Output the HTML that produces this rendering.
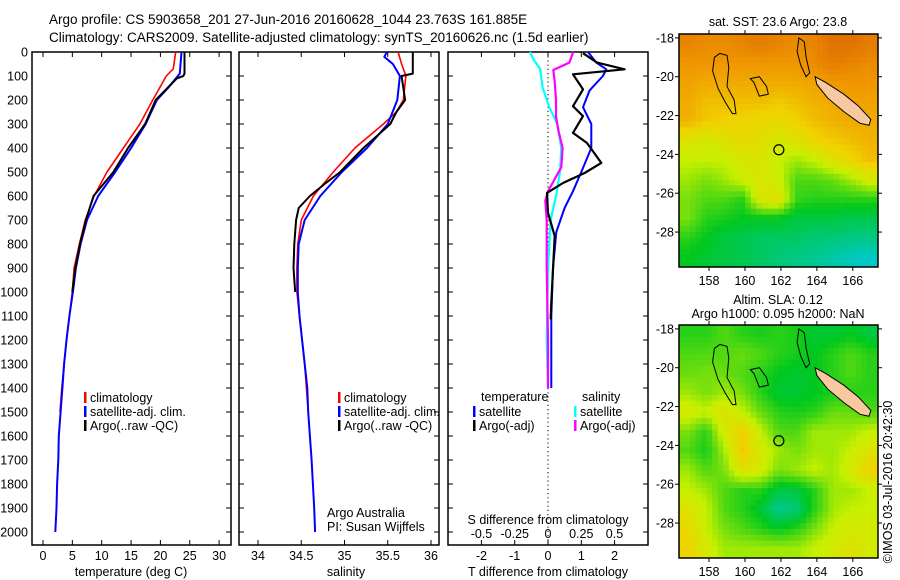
<!DOCTYPE html>
<html><head><meta charset="utf-8">
<style>
body{margin:0;background:#fff;}
svg{display:block;font-family:"Liberation Sans",sans-serif;}
text{fill:#000;}
</style></head>
<body>
<svg id="c" width="900" height="580" xmlns="http://www.w3.org/2000/svg">
<text x="49" y="24" font-size="13.5">Argo profile: CS 5903658_201 27-Jun-2016 20160628_1044 23.763S 161.885E</text>
<text x="49" y="42" font-size="13.5">Climatology: CARS2009. Satellite-adjusted climatology: synTS_20160626.nc (1.5d earlier)</text>
<g id="p1"></g>
<g id="p2"></g>
<g id="p3"></g>
<g id="m1"></g>
<g id="m2"></g>
<text transform="translate(892,482) rotate(-90)" text-anchor="middle" font-size="12.5">©IMOS 03-Jul-2016 20:42:30</text>
</svg>
<script>
// ---- data ----
const depthTicks=[0,100,200,300,400,500,600,700,800,900,1000,1100,1200,1300,1400,1500,1600,1700,1800,1900,2000];
const tempTicks=[0,5,10,15,20,25,30];
const salTicks=[34,34.5,35,35.5,36];
const tdiffTicks=[-2,-1,0,1,2];
const sdiffTicks=[-0.5,-0.25,0,0.25,0.5];
const tempArgoDepth=[0,90,100,110,200,300,400,500,600,700,800,900,1000];
const tempArgo=[24.1,24.1,23.9,22.8,19.2,17.4,14.5,12.0,8.6,7.3,6.3,5.5,5.0];
const tempClimDepth=[0,70,100,200,300,400,500,600,700,800,900,1000,1100,1200,1300,1400,1500];
const tempClim=[22.6,22.2,21.0,18.7,16.5,13.7,10.9,8.7,7.2,6.2,5.3,5.0,4.5,4.0,3.6,3.2,2.9];
const tempSatDepth=[0,90,150,200,300,400,500,600,700,800,900,1000,1100,1200,1300,1400,1500,1600,1700,1800,1900,2000];
const tempSat=[23.6,23.3,21.3,19.4,17.5,15.0,12.3,9.4,7.5,6.4,5.6,5.1,4.5,4.0,3.6,3.3,3.0,2.7,2.6,2.4,2.3,2.1];
const salArgoDepth=[0,90,100,200,250,300,400,500,550,600,650,700,800,900,1000];
const salArgo=[35.79,35.79,35.66,35.70,35.60,35.53,35.22,34.95,34.77,34.60,34.47,34.44,34.42,34.41,34.43];
const salClimDepth=[0,50,100,200,250,300,400,500,600,700,800,900,1000,1100,1200,1300,1400,1500];
const salClim=[35.62,35.66,35.71,35.68,35.60,35.45,35.12,34.87,34.64,34.50,34.46,34.45,34.45,34.48,34.51,34.54,34.56,34.58];
const salSatDepth=[0,20,50,100,200,300,400,500,600,700,800,900,1000,1100,1200,1300,1400,1500,1700,1900,2000];
const salSat=[35.49,35.46,35.56,35.64,35.61,35.50,35.26,34.97,34.72,34.54,34.47,34.46,34.46,34.48,34.51,34.54,34.57,34.58,34.62,34.65,34.66];
const tdArgoDepth=[5,44,72,93,156,226,267,337,379,462,504,546,587,670,767,906,1045,1114];
const tdArgo=[1.05,1.47,2.3,0.75,1.05,0.75,1.05,0.75,1.17,1.6,1.1,0.45,-0.03,0.0,0.2,0.15,0.1,0.08];
const tdSatDepth=[0,44,72,100,160,230,300,400,500,580,650,750,900,1100,1400];
const tdSat=[1.2,1.45,1.75,1.65,1.25,1.05,1.3,1.3,1.0,0.75,0.5,0.25,0.15,0.1,0.1];
const sdArgoDepth=[0,44,75,120,200,270,330,400,480,540,580,620,700,900,1200,1400];
const sdArgo=[0.19,0.16,0.04,0.05,0.06,0.06,0.08,0.11,0.10,0.04,0.0,-0.02,-0.01,-0.01,0.0,0.0];
const sdSatDepth=[0,30,70,150,230,300,400,500,600,700,900,1200,1400];
const sdSat=[-0.135,-0.11,-0.06,-0.04,0.01,0.07,0.10,0.09,0.06,0.02,0.0,-0.01,0.0];
const latTicks=[-18,-20,-22,-24,-26,-28];
const lonTicks=[158,160,162,164,166];
const sstGrid=[
[0.9,0.88,0.88,0.9,0.92,0.9,0.88,0.9,0.95,0.95,0.92],
[0.85,0.85,0.85,0.85,0.85,0.85,0.85,0.88,0.92,0.9,0.88],
[0.82,0.8,0.8,0.8,0.8,0.8,0.8,0.82,0.85,0.85,0.85],
[0.8,0.75,0.75,0.75,0.75,0.72,0.75,0.78,0.8,0.82,0.82],
[0.78,0.72,0.7,0.68,0.66,0.66,0.7,0.75,0.78,0.8,0.8],
[0.6,0.55,0.6,0.66,0.62,0.56,0.6,0.68,0.72,0.75,0.78],
[0.5,0.5,0.5,0.56,0.58,0.5,0.45,0.5,0.6,0.68,0.75],
[0.45,0.4,0.45,0.52,0.58,0.52,0.35,0.35,0.38,0.45,0.55],
[0.4,0.35,0.35,0.3,0.58,0.62,0.32,0.3,0.3,0.3,0.3],
[0.4,0.3,0.28,0.25,0.25,0.25,0.2,0.2,0.2,0.18,0.18],
[0.3,0.25,0.2,0.18,0.15,0.15,0.15,0.12,0.12,0.1,0.1],
[0.25,0.22,0.2,0.18,0.15,0.12,0.1,0.08,0.05,0.02,0.0]];
const slaGrid=[
[0.3,0.3,0.35,0.3,0.28,0.3,0.28,0.22,0.22,0.25,0.2],
[0.35,0.35,0.35,0.38,0.35,0.3,0.28,0.25,0.3,0.35,0.3],
[0.38,0.4,0.38,0.35,0.3,0.25,0.22,0.25,0.3,0.35,0.3],
[0.45,0.4,0.45,0.4,0.3,0.22,0.22,0.25,0.28,0.3,0.3],
[0.55,0.5,0.6,0.5,0.38,0.3,0.28,0.3,0.38,0.38,0.35],
[0.4,0.3,0.55,0.7,0.5,0.35,0.35,0.45,0.45,0.45,0.5],
[0.35,0.28,0.45,0.72,0.55,0.45,0.4,0.45,0.45,0.5,0.6],
[0.45,0.35,0.4,0.6,0.55,0.4,0.45,0.5,0.45,0.55,0.7],
[0.5,0.45,0.35,0.3,0.3,0.2,0.2,0.3,0.45,0.45,0.5],
[0.6,0.5,0.35,0.3,0.22,0.08,0.12,0.3,0.45,0.5,0.5],
[0.65,0.5,0.4,0.35,0.3,0.25,0.3,0.4,0.5,0.55,0.55],
[0.7,0.55,0.45,0.45,0.45,0.45,0.45,0.5,0.55,0.6,0.55]];

// ---- helpers ----
const NS="http://www.w3.org/2000/svg";
function mk(parent,tag,attrs,txt){const e=document.createElementNS(NS,tag);for(const k in attrs)e.setAttribute(k,attrs[k]);if(txt!==undefined)e.textContent=txt;parent.appendChild(e);return e;}
const yD=d=>52+d*0.24;
const PB=545;
function frame(g,x0,x1,name){
  const r=mk(g,'rect',{x:x0,y:52,width:x1-x0,height:PB-52,fill:'none',stroke:'#000','stroke-width':1.5});
  
  
}
function yticks(g,x0,x1,labels){
  depthTicks.forEach(d=>{
    const y=yD(d);
    mk(g,'line',{x1:x1-5,x2:x1,y1:y,y2:y,stroke:'#000'});
    if(labels){const t=mk(g,'text',{x:x0-4,y:y+4.5,'font-size':12.5,'text-anchor':'end'},String(d));
      
      }
  });
}
function xticks(g,vals,sx,fmt,ly){
  vals.forEach(v=>{const x=sx(v);
    mk(g,'line',{x1:x,x2:x,y1:52,y2:57,stroke:'#000'});
    mk(g,'line',{x1:x,x2:x,y1:PB,y2:PB-5,stroke:'#000'});
    const t=mk(g,'text',{x:x,y:ly,'font-size':12.5,'text-anchor':'middle'},fmt(v));
    
    
  });
}
function line(g,xs,ds,sx,col,w,name){
  const pts=xs.map((v,i)=>sx(v).toFixed(1)+','+yD(ds[i]).toFixed(1)).join(' ');
  const p=mk(g,'polyline',{points:pts,fill:'none',stroke:col,'stroke-width':w,'stroke-linejoin':'round'});
  
  
}
function legend(g,x,y,col,label){
  mk(g,'rect',{x:x,y:y-10,width:2.5,height:11,fill:col});
  const t=mk(g,'text',{x:x+6,y:y,'font-size':12.5},label);
  
  
}
// ---- panel 1 ----
const p1=document.getElementById('p1');
const sxT=v=>43+v*5.87;
frame(p1,32,231,'temperature-plot-frame');yticks(p1,32,231,true);
xticks(p1,tempTicks,sxT,String,560);
line(p1,tempClim,tempClimDepth,sxT,'#f00',1.6,'temperature-climatology-line');
line(p1,tempSat,tempSatDepth,sxT,'#00f',2,'temperature-satellite-line');
line(p1,tempArgo,tempArgoDepth,sxT,'#000',2,'temperature-argo-line');
mk(p1,'text',{x:131,y:576,'font-size':12.5,'text-anchor':'middle'},'temperature (deg C)');
legend(p1,84,402,'#f00','climatology');legend(p1,84,416,'#00f','satellite-adj. clim.');legend(p1,84,430,'#000','Argo(..raw -QC)');
// ---- panel 2 ----
const p2=document.getElementById('p2');
const sxS=v=>258+(v-34)*86.5;
frame(p2,239,439,'salinity-plot-frame');yticks(p2,239,439,false);
depthTicks.forEach(d=>mk(p2,'line',{x1:239,x2:244,y1:yD(d),y2:yD(d),stroke:'#000'}));
xticks(p2,salTicks,sxS,String,560);
line(p2,salClim,salClimDepth,sxS,'#f00',1.6,'salinity-climatology-line');
line(p2,salSat,salSatDepth,sxS,'#00f',2,'salinity-satellite-line');
line(p2,salArgo,salArgoDepth,sxS,'#000',2,'salinity-argo-line');
mk(p2,'text',{x:346,y:576,'font-size':12.5,'text-anchor':'middle'},'salinity');
legend(p2,338,402,'#f00','climatology');legend(p2,338,416,'#00f','satellite-adj. clim.');legend(p2,338,430,'#000','Argo(..raw -QC)');
mk(p2,'text',{x:327,y:517,'font-size':12.5},'Argo Australia');
mk(p2,'text',{x:327,y:531,'font-size':12.5},'PI: Susan Wijffels');
// ---- panel 3 ----
const p3=document.getElementById('p3');
const sxTd=v=>548+v*33.3, sxSd=v=>548+v*133;
frame(p3,448,648,'difference-plot-frame');yticks(p3,448,648,false);
depthTicks.forEach(d=>mk(p3,'line',{x1:448,x2:453,y1:yD(d),y2:yD(d),stroke:'#000'}));
xticks(p3,tdiffTicks,sxTd,String,560);
sdiffTicks.forEach(v=>{const t=mk(p3,'text',{x:sxSd(v),y:538,'font-size':12.5,'text-anchor':'middle'},String(v));
  
  });
mk(p3,'line',{x1:548,x2:548,y1:52,y2:PB,stroke:'#000','stroke-dasharray':'1.2,3'});
line(p3,sdSat,sdSatDepth,sxSd,'#0ff',2.2,'s-diff-satellite-line');
line(p3,sdArgo,sdArgoDepth,sxSd,'#f0f',2.2,'s-diff-argo-line');
line(p3,tdSat,tdSatDepth,sxTd,'#00f',2,'t-diff-satellite-line');
line(p3,tdArgo,tdArgoDepth,sxTd,'#000',2.2,'t-diff-argo-line');
mk(p3,'text',{x:481,y:401,'font-size':12.5},'temperature');
mk(p3,'text',{x:582,y:401,'font-size':12.5},'salinity');
legend(p3,473,416,'#00f','satellite');legend(p3,473,430,'#000','Argo(-adj)');
legend(p3,574,416,'#0ff','satellite');legend(p3,574,430,'#f0f','Argo(-adj)');
mk(p3,'text',{x:548,y:524,'font-size':12.5,'text-anchor':'middle'},'S difference from climatology');
mk(p3,'text',{x:548,y:576,'font-size':12.5,'text-anchor':'middle'},'T difference from climatology');
// ---- maps ----
const stops=[[0,[0,200,200]],[0.25,[0,200,30]],[0.5,[200,240,0]],[0.7,[240,210,0]],[0.85,[240,150,0]],[1,[216,96,0]]];
function cmap(v){for(let i=1;i<stops.length;i++){if(v<=stops[i][0]){const a=stops[i-1],b=stops[i];const t=(v-a[0])/(b[0]-a[0]);return 'rgb('+a[1].map((c,k)=>Math.round(c+(b[1][k]-c)*t)).join(',')+')';}}return 'rgb(216,96,0)';}
function sample(grid,fr,fc){
  const R=grid.length-1,C=grid[0].length-1;
  const r=Math.min(Math.max(fr,0),R),c=Math.min(Math.max(fc,0),C);
  const r0=Math.floor(r),c0=Math.floor(c),r1=Math.min(r0+1,R),c1=Math.min(c0+1,C);
  const tr=r-r0,tc=c-c0;
  return grid[r0][c0]*(1-tr)*(1-tc)+grid[r0][c1]*(1-tr)*tc+grid[r1][c0]*tr*(1-tc)+grid[r1][c1]*tr*tc;
}
const island1=[[158.6,-18.8],[159.0,-18.9],[159.1,-19.5],[159.0,-20.5],[159.4,-21.2],[159.5,-21.9],[159.3,-21.9],[158.9,-21.3],[158.5,-20.6],[158.2,-19.7],[158.3,-19.0]];
const island2=[[163.0,-18.0],[163.3,-18.2],[163.4,-19.0],[163.6,-19.8],[163.4,-20.0],[163.1,-19.4],[162.9,-18.7]];
const island3=[[160.3,-20.1],[160.8,-20.0],[161.2,-20.5],[161.3,-20.9],[160.8,-21.0],[160.5,-20.3]];
const newcal=[[163.9,-20.0],[164.5,-20.3],[165.5,-20.9],[166.3,-21.5],[167.0,-22.2],[166.9,-22.5],[166.4,-22.4],[165.5,-21.8],[164.6,-21.1],[164.0,-20.4]];
function drawMap(id,grid,top,title1,title2){
  const g=document.getElementById(id);
  const x0=679,x1=878,lon0=156.33,lon1=167.4,lat0=-17.8,lat1=-29.8;
  const h=233;
  const sx=lon=>x0+(lon-lon0)*(x1-x0)/(lon1-lon0);
  const sy=lat=>top+(lat0-lat)*h/(lat0-lat1);
  const rows=grid.length,cols=grid[0].length;
  const NR=40,NC=36;
  const cw=(x1-x0)/NC,ch=h/NR;
  for(let r=0;r<NR;r++)for(let c=0;c<NC;c++){
    const v=sample(grid,(r+0.5)/NR*rows-0.5,(c+0.5)/NC*cols-0.5);
    const cell=mk(g,'rect',{x:(x0+c*cw).toFixed(2),y:(top+r*ch).toFixed(2),width:(cw+0.5).toFixed(2),height:(ch+0.5).toFixed(2),fill:cmap(v)});
    
    
  }
  [island1,island2,island3].forEach(poly=>mk(g,'polygon',{points:poly.map(p=>sx(p[0])+','+sy(p[1])).join(' '),fill:'none',stroke:'#000','stroke-width':1}));
  mk(g,'polygon',{points:newcal.map(p=>sx(p[0])+','+sy(p[1])).join(' '),fill:'#f8c8a0',stroke:'#000','stroke-width':1});
  const pos=mk(g,'circle',{cx:sx(161.885),cy:sy(-23.763),r:5,fill:'none',stroke:'#000','stroke-width':1.2});
  
  
  mk(g,'rect',{x:x0,y:top,width:x1-x0,height:h,fill:'none',stroke:'#000','stroke-width':1.5});
  latTicks.forEach(l=>{const y=sy(l);mk(g,'line',{x1:x0-4,x2:x0,y1:y,y2:y,stroke:'#000'});mk(g,'line',{x1:x1,x2:x1+4,y1:y,y2:y,stroke:'#000'});
    mk(g,'text',{x:x0-5,y:y+4.5,'font-size':12.5,'text-anchor':'end'},String(l));});
  lonTicks.forEach(l=>{const x=sx(l);mk(g,'line',{x1:x,x2:x,y1:top-4,y2:top,stroke:'#000'});mk(g,'line',{x1:x,x2:x,y1:top+h,y2:top+h+4,stroke:'#000'});
    mk(g,'text',{x:x,y:top+h+18,'font-size':12.5,'text-anchor':'middle'},String(l));});
  if(title2){mk(g,'text',{x:778,y:top-21,'font-size':12.5,'text-anchor':'middle'},title1);mk(g,'text',{x:778,y:top-7,'font-size':12.5,'text-anchor':'middle'},title2);}
  else mk(g,'text',{x:778,y:top-8,'font-size':12.5,'text-anchor':'middle'},title1);
}
drawMap('m1',sstGrid,34,'sat. SST: 23.6 Argo: 23.8');
drawMap('m2',slaGrid,325,'Altim. SLA: 0.12','Argo h1000: 0.095 h2000: NaN');
</script>
</body></html>
